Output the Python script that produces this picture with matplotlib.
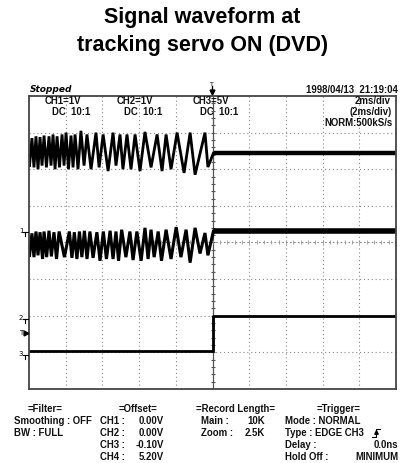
import numpy as np
import matplotlib
matplotlib.use("Agg")
import matplotlib.pyplot as plt
from matplotlib.lines import Line2D

# screen values: time in ms (2 ms/div), level in divisions
ch1_t = [-9.97, -9.84, -9.73, -9.62, -9.51, -9.40, -9.29, -9.18, -9.05, -8.91,
         -8.80, -8.69, -8.58, -8.47, -8.34, -8.20, -8.09, -7.98, -7.85, -7.71,
         -7.60, -7.49, -7.33, -7.17, -7.00, -6.84, -6.62, -6.35, -6.18, -5.96,
         -5.69, -5.42, -5.26, -5.04, -4.88, -4.66, -4.44, -4.22, -3.95, -3.68,
         -3.35, -3.02, -2.75, -2.53, -2.26, -1.93, -1.55, -1.22, -0.95, -0.41,
         -0.25, 0.05, 10.0]
ch1_v = [2.10, 2.85, 2.05, 2.90, 2.00, 2.88, 2.10, 2.92, 2.05, 2.90,
         2.10, 2.95, 2.00, 2.90, 2.05, 2.95, 2.10, 3.00, 2.00, 2.92,
         2.05, 2.95, 2.00, 3.05, 2.10, 2.95, 2.00, 3.00, 2.05, 2.95,
         1.95, 3.00, 2.10, 2.95, 2.00, 2.95, 2.00, 2.95, 1.95, 3.02,
         2.05, 2.95, 1.95, 2.95, 2.00, 3.00, 1.90, 3.00, 1.85, 3.00,
         2.06, 2.44, 2.44]

ch2_t = [-9.97, -9.84, -9.73, -9.62, -9.51, -9.40, -9.26, -9.18, -9.04, -8.91,
         -8.78, -8.64, -8.50, -8.36, -8.07, -7.80, -7.66, -7.53, -7.39, -7.25,
         -7.12, -6.98, -6.84, -6.68, -6.51, -6.30, -6.13, -5.95, -5.78, -5.58,
         -5.42, -5.26, -5.12, -4.95, -4.72, -4.50, -4.33, -4.12, -3.89, -3.68,
         -3.51, -3.35, -3.18, -2.96, -2.78, -2.53, -2.26, -1.98, -1.72, -1.44,
         -1.22, -0.95, -0.68, -0.41, -0.25, 0.05, 10.0]
ch2_v = [-0.35, 0.25, -0.40, 0.30, -0.35, 0.28, -0.45, 0.30, -0.40, 0.32,
         -0.38, 0.28, -0.45, 0.30, -0.40, 0.30, -0.42, 0.28, -0.45, 0.30,
         -0.40, 0.32, -0.45, 0.30, -0.42, 0.28, -0.50, 0.30, -0.45, 0.32,
         -0.45, 0.30, -0.50, 0.35, -0.40, 0.30, -0.48, 0.30, -0.50, 0.40,
         -0.45, 0.35, -0.40, 0.30, -0.50, 0.35, -0.45, 0.42, -0.40, 0.35,
         -0.55, 0.40, -0.30, 0.26, -0.35, 0.31, 0.31]

ch3_t = [-10.0, 0.05, 0.05, 10.0]
ch3_v = [-2.97, -2.97, -2.02, -2.02]

header = [("CH1=1V", "DC  10:1"), ("CH2=1V", "DC  10:1"), ("CH3=5V", "DC  10:1")]
filter_rows = [("Smoothing : OFF", ""), ("BW : FULL", "")]
offset_rows = [("CH1 :", "0.00V"), ("CH2 :", "0.00V"), ("CH3 :", "-0.10V"), ("CH4 :", "5.20V")]
record_rows = [("Main :", "10K"), ("Zoom :", "2.5K")]
trigger_rows = [("Mode : NORMAL", ""), ("Type : EDGE CH3", ""), ("Delay :", "0.0ns"), ("Hold Off :", "MINIMUM")]

W, H = 405, 463
fig = plt.figure(figsize=(W / 100, H / 100), dpi=100)


def fx(x):
    return x / W


def fy(y):
    return 1 - y / H


fig.text(0.5, fy(18), "Signal waveform at", ha="center", va="center",
         fontsize=15.5, fontweight="bold", family="Liberation Sans")
fig.text(0.5, fy(45), "tracking servo ON (DVD)", ha="center", va="center",
         fontsize=15.5, fontweight="bold", family="Liberation Sans")

ax = fig.add_axes([fx(29), fy(389), (396 - 29) / W, (389 - 96) / H])
ax.set_xlim(-10, 10)
ax.set_ylim(-4, 4)
ax.set_xticks([])
ax.set_yticks([])
for s in ax.spines.values():
    s.set_linewidth(1.3)
    s.set_color("#444444")

# graticule
for gx in np.arange(-8, 10, 2):
    if gx != 0:
        ax.axvline(gx, color="#888888", lw=0.8, ls=(0, (1, 2.5)))
for gy in range(-3, 4):
    if gy != 0:
        ax.axhline(gy, color="#888888", lw=0.8, ls=(0, (1, 2.5)))
ax.axhline(0, color="#888888", lw=0.8, ls=(0, (1.5, 2)))
ax.axvline(0, color="#555555", lw=0.9)
tk = np.arange(-3.8, 4.0, 0.2)
ax.plot(np.zeros_like(tk), tk, ls="none", marker="_", ms=3.5, mew=0.8, color="#555555")
tk = np.arange(-9.6, 10.0, 0.4)
ax.plot(tk, np.zeros_like(tk), ls="none", marker="|", ms=2.5, mew=0.6, color="#999999")

# traces
ax.plot(ch1_t, ch1_v, color="black", lw=2.0, solid_joinstyle="miter")
ax.plot([0.2, 10], [2.44, 2.44], color="black", lw=3.2)
ax.plot(ch2_t, ch2_v, color="black", lw=2.2, solid_joinstyle="miter")
ax.plot([0.2, 10], [0.31, 0.31], color="black", lw=4.0)
ax.plot(ch3_t, ch3_v, color="black", lw=2.0)

# header inside screen
mono = dict(family="Liberation Sans", fontsize=6.9, fontweight="bold", color="#111111")
hx = [63, 135, 211]
for i, (a, b) in enumerate(header):
    fig.text(fx(hx[i]), fy(101), a, ha="center", va="center", **mono)
    fig.text(fx(hx[i] + 8), fy(112), b, ha="center", va="center", **mono)
fig.text(fx(391), fy(101), "2ms/div", ha="right", va="center", **mono)
fig.text(fx(392), fy(112), "(2ms/div)", ha="right", va="center", **mono)
fig.text(fx(393), fy(123), "NORM:500kS/s", ha="right", va="center", **mono)

fig.text(fx(30), fy(90), "Stopped", ha="left", va="center", family="DejaVu Sans",
         fontsize=6.5, fontweight="bold", style="italic")
fig.text(fx(398), fy(90), "1998/04/13  21:19:04", ha="right", va="center", **mono)

# trigger position marker
fig.text(fx(212), fy(84), "T", ha="center", va="center", family="DejaVu Sans", fontsize=4.5)
fig.add_artist(Line2D([fx(212), fx(212)], [fy(86), fy(93)], color="black", lw=1.0))
fig.add_artist(Line2D([fx(212)], [fy(92)], marker="v", ms=3.5, color="black"))

# ground / trigger level markers
for lab, yy in [("1", 232), ("2", 319), ("3", 355)]:
    fig.text(fx(21), fy(yy - 1), lab, ha="center", va="center", family="DejaVu Sans", fontsize=5)
    fig.add_artist(Line2D([fx(23), fx(28)], [fy(yy), fy(yy)], color="black", lw=0.8))
    fig.add_artist(Line2D([fx(25.5), fx(25.5)], [fy(yy), fy(yy + 4)], color="black", lw=0.8))
fig.text(fx(21), fy(333), "T", ha="center", va="center", family="DejaVu Sans", fontsize=5)
fig.add_artist(Line2D([fx(26)], [fy(333)], marker=">", ms=3.5, color="black"))

# settings panel below the screen
row_y = [421, 433, 445, 457]
fig.text(fx(45), fy(409), "=Filter=", ha="center", va="center", **mono)
for i, (a, b) in enumerate(filter_rows):
    fig.text(fx(14), fy(row_y[i]), a, ha="left", va="center", **mono)

fig.text(fx(138), fy(409), "=Offset=", ha="center", va="center", **mono)
for i, (a, b) in enumerate(offset_rows):
    fig.text(fx(100), fy(row_y[i]), a, ha="left", va="center", **mono)
    fig.text(fx(164), fy(row_y[i]), b, ha="right", va="center", **mono)

fig.text(fx(235), fy(409), "=Record Length=", ha="center", va="center", **mono)
for i, (a, b) in enumerate(record_rows):
    fig.text(fx(201), fy(row_y[i]), a, ha="left", va="center", **mono)
    fig.text(fx(265), fy(row_y[i]), b, ha="right", va="center", **mono)

fig.text(fx(339), fy(409), "=Trigger=", ha="center", va="center", **mono)
for i, (a, b) in enumerate(trigger_rows):
    fig.text(fx(285), fy(row_y[i]), a, ha="left", va="center", **mono)
    if b:
        fig.text(fx(398), fy(row_y[i]), b, ha="right", va="center", **mono)

# rising edge symbol after "EDGE CH3"
ex = [fx(372), fx(376), fx(376), fx(380)]
ey = [fy(437), fy(437), fy(429), fy(429)]
fig.add_artist(Line2D(ex, ey, color="black", lw=0.8))
fig.add_artist(Line2D([fx(376)], [fy(432)], marker="^", ms=2.5, color="black"))

fig.savefig("out.png", dpi=100)
